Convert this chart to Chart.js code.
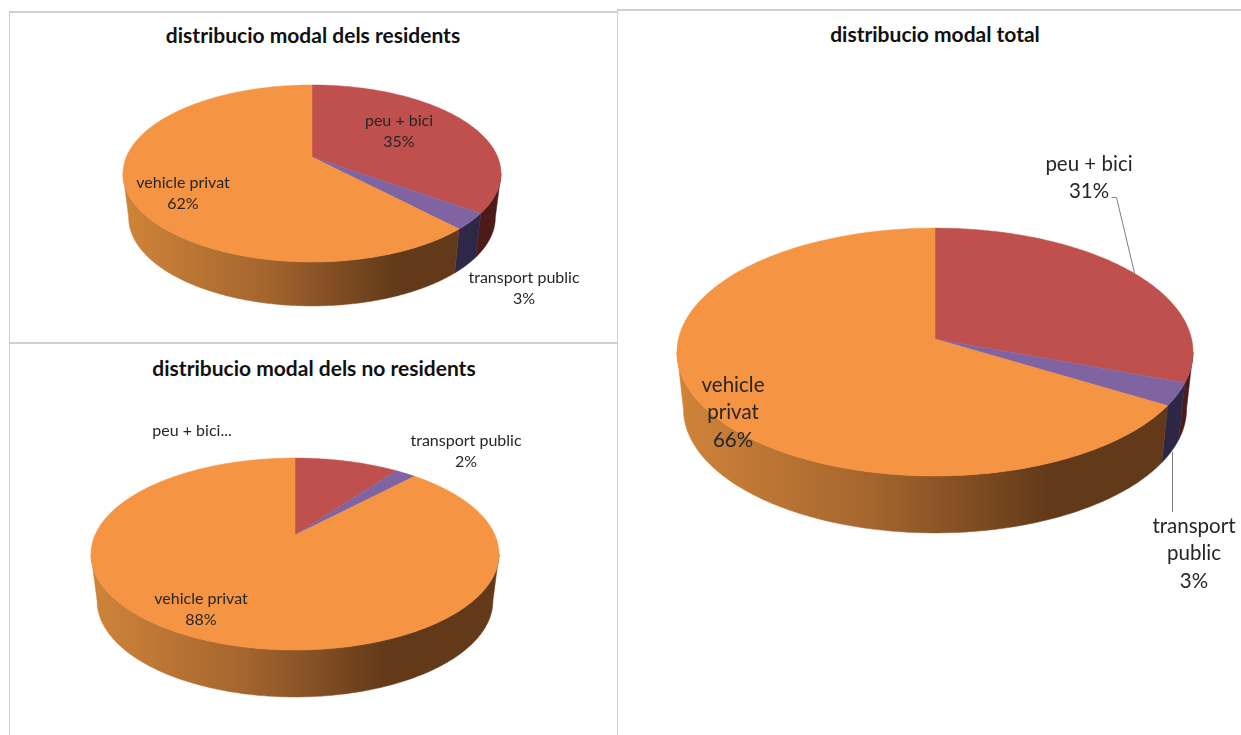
<!DOCTYPE html>
<html lang="en">
<head>
    <meta charset="UTF-8">
    <title>distribucio modal</title>
    <script src="https://cdn.jsdelivr.net/npm/chart.js"></script>
    <style>
        html, body {
            margin: 0;
            background: #fff;
            overflow: hidden;
        }
        body {
            width: 1241px;
            height: 735px;
            position: relative;
            font-family: Lato, sans-serif;
        }
        .card {
            position: absolute;
            background: #fff;
            box-shadow: inset 1px 2px 0 #cfcfcf;
        }
        .card canvas {
            position: absolute;
            left: 0;
            top: 0;
        }
        .card h3 {
            position: absolute;
            margin: 0;
            font-size: 21px;
            line-height: 24px;
            font-weight: bold;
            color: #111;
            white-space: nowrap;
            transform: translateX(-50%);
        }
    </style>
</head>
<body>
    <div class="card" style="left:9px;top:11px;width:608px;height:331px">
        <h3 style="left:304px;top:12px">distribucio modal dels residents</h3>
        <canvas id="residentsChart" width="608" height="331"></canvas>
    </div>
    <div class="card" style="left:9px;top:342px;width:608px;height:393px">
        <h3 style="left:305px;top:14px">distribucio modal dels no residents</h3>
        <canvas id="noResidentsChart" width="608" height="393"></canvas>
    </div>
    <div class="card" style="left:617px;top:9px;width:624px;height:726px">
        <h3 style="left:318px;top:13px">distribucio modal total</h3>
        <canvas id="totalChart" width="624" height="726"></canvas>
    </div>

    <script>
        const categories = ['peu + bici', 'transport public', 'vehicle privat'];
        const residents = [35, 3, 62];
        const noResidents = [10, 2, 88];
        const total = [30.6, 3, 66.4];

        const topColors = ['#c0504d', '#8064a2', '#f59443'];
        const wallColors = [
            [[0, '#6a2422'], [1, '#4c1a1a']],
            [[0, '#3d3358'], [1, '#2e2645']],
            [[0, '#d08439'], [0.38, '#a4652e'], [0.72, '#633a19'], [1, '#633a19']]
        ];

        const pct = (v) => Math.round(v) + '%';

        // draws the slices the library worked out, with the old excel 3d look
        const pie3d = {
            id: 'pie3d',
            beforeDatasetsDraw(chart, args, opts) {
                const ctx = chart.ctx;
                const arcs = chart.getDatasetMeta(0).data;
                const cx = arcs[0].x, cy = arcs[0].y, R = arcs[0].outerRadius;
                const p = opts.lean;
                const A = R * Math.sqrt(1 - p * p);
                const B = R * opts.flat;

                const project = (a) => {
                    const d = 1 - p * Math.sin(a);
                    return [cx + A * Math.cos(a) / d, cy + B * Math.sin(a) / d];
                };
                const sample = (a0, a1) => {
                    const pts = [];
                    const n = Math.max(2, Math.ceil((a1 - a0) * 60));
                    for (let i = 0; i <= n; i++) pts.push(project(a0 + (a1 - a0) * i / n));
                    return pts;
                };

                // side wall, only the part that faces us
                const from = Math.asin(p), to = Math.PI - from;
                const grad = (stops) => {
                    const g = ctx.createLinearGradient(cx - R, 0, cx + R, 0);
                    stops.forEach(s => g.addColorStop(s[0], s[1]));
                    return g;
                };
                arcs.forEach((arc, i) => {
                    const a0 = Math.max(arc.startAngle, from);
                    const a1 = Math.min(arc.endAngle, to);
                    if (a1 <= a0) return;
                    const pts = sample(a0, a1);
                    const fill = grad(wallColors[i]);
                    ctx.beginPath();
                    pts.forEach((q, k) => k ? ctx.lineTo(q[0], q[1]) : ctx.moveTo(q[0], q[1]));
                    pts.slice().reverse().forEach(q => {
                        ctx.lineTo(cx + (q[0] - cx) * opts.shrink, q[1] + opts.depth);
                    });
                    ctx.closePath();
                    ctx.fillStyle = fill;
                    ctx.strokeStyle = fill;
                    ctx.lineWidth = 0.5;
                    ctx.fill();
                    ctx.stroke();
                });

                // top face
                arcs.forEach((arc, i) => {
                    ctx.beginPath();
                    ctx.moveTo(cx, cy);
                    sample(arc.startAngle, arc.endAngle).forEach(q => ctx.lineTo(q[0], q[1]));
                    ctx.closePath();
                    ctx.fillStyle = topColors[i];
                    ctx.strokeStyle = topColors[i];
                    ctx.lineWidth = 0.5;
                    ctx.fill();
                    ctx.stroke();
                });
                return false;
            },
            afterDraw(chart, args, opts) {
                const ctx = chart.ctx;
                ctx.save();
                ctx.strokeStyle = '#7f7f7f';
                ctx.lineWidth = 1;
                (opts.leaders || []).forEach(line => {
                    ctx.beginPath();
                    line.forEach((q, k) => k ? ctx.lineTo(q[0], q[1]) : ctx.moveTo(q[0], q[1]));
                    ctx.stroke();
                });
                ctx.fillStyle = '#262626';
                ctx.textAlign = 'center';
                ctx.textBaseline = 'middle';
                ctx.font = opts.fontSize + 'px Lato, sans-serif';
                opts.labels.forEach(l => {
                    l.lines.forEach((t, k) => ctx.fillText(t, l.x, l.y + k * opts.lineHeight));
                });
                ctx.restore();
            }
        };

        function makePie(id, values, padding, radius, look) {
            return new Chart(document.getElementById(id), {
                type: 'pie',
                data: {
                    labels: categories,
                    datasets: [{ data: values, backgroundColor: topColors, borderWidth: 0 }]
                },
                options: {
                    responsive: false,
                    animation: false,
                    radius: radius,
                    layout: { padding: padding },
                    plugins: {
                        legend: { display: false },
                        tooltip: { enabled: false },
                        pie3d: look
                    }
                },
                plugins: [pie3d]
            });
        }

        makePie('residentsChart', residents, { right: 2, bottom: 39 }, 189, {
            lean: 0.186, flat: 0.452, depth: 44, shrink: 0.97,
            fontSize: 16, lineHeight: 21,
            labels: [
                { lines: [categories[0], pct(residents[0])], x: 390, y: 110 },
                { lines: [categories[2], pct(residents[2])], x: 174, y: 172 },
                { lines: [categories[1], pct(residents[1])], x: 515, y: 267 }
            ]
        });

        makePie('noResidentsChart', noResidents, { right: 36, bottom: 7 }, 204, {
            lean: 0.198, flat: 0.452, depth: 47, shrink: 0.97,
            fontSize: 16, lineHeight: 21,
            labels: [
                { lines: [categories[0] + '...'], x: 183, y: 89 },
                { lines: [categories[1], pct(noResidents[1])], x: 457, y: 99 },
                { lines: [categories[2], pct(noResidents[2])], x: 192, y: 257 }
            ]
        });

        makePie('totalChart', total, { left: 12, bottom: 66 }, 258, {
            lean: 0.105, flat: 0.475, depth: 57, shrink: 0.975,
            fontSize: 20.5, lineHeight: 27.5,
            labels: [
                { lines: [categories[0], pct(total[0])], x: 472, y: 155 },
                { lines: ['vehicle', 'privat', pct(total[2])], x: 116, y: 376 },
                { lines: ['transport', 'public', pct(total[1])], x: 577, y: 517 }
            ],
            leaders: [
                [[494.5, 188.5], [499.5, 188.5], [517.5, 264]],
                [[555.5, 443], [555.5, 503]]
            ]
        });
    </script>
</body>
</html>
